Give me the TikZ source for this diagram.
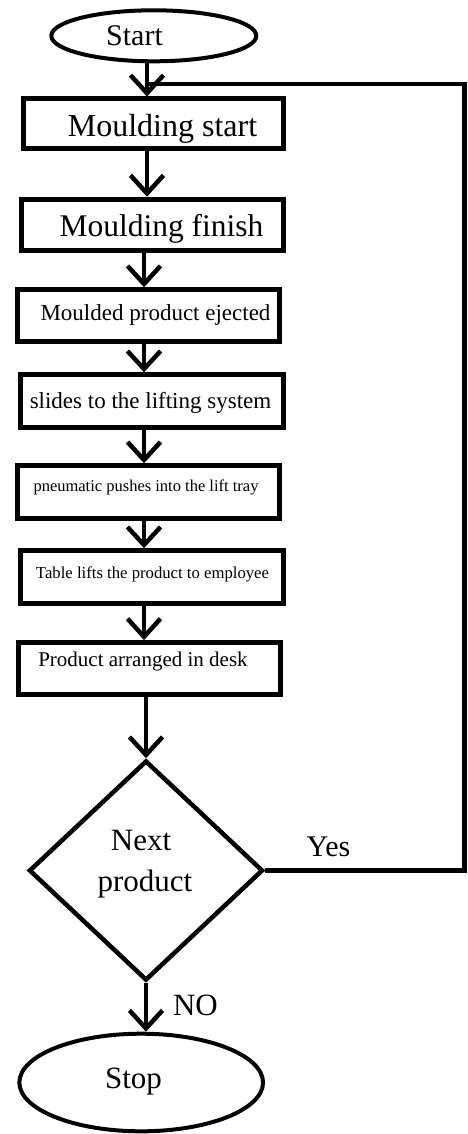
\documentclass[tikz,border=0pt]{standalone}
\usepackage{fontspec}
\setmainfont{Liberation Serif}
\usetikzlibrary{arrows.meta,shapes.geometric}
\newcommand{\fsz}[1]{\fontsize{#1}{#1}\selectfont}
\begin{document}
\begin{tikzpicture}[x=1pt,y=-1pt,
  boxnode/.style={draw, rectangle, line width=5pt, inner sep=0pt},
  termnode/.style={draw, ellipse, line width=4pt, inner sep=0pt},
  decnode/.style={draw, diamond, line width=4.5pt, inner sep=0pt},
  txt/.style={anchor=base, inner sep=0pt},
  arr/.style={line width=4.5pt, -{Straight Barb[length=18pt, width=33pt]}},
  flow/.style={line width=4.5pt}
]
\useasboundingbox (0,0) rectangle (467,1134);

% shapes
\node[termnode, minimum width=205pt, minimum height=51pt] (start) at (153.8,35.8) {};
\node[boxnode, minimum width=260pt, minimum height=50pt] (ms) at (153.5,124) {};
\node[boxnode, minimum width=261.7pt, minimum height=51.6pt] (mf) at (152.6,225) {};
\node[boxnode, minimum width=261.7pt, minimum height=51.7pt] (ej) at (148.4,315.6) {};
\node[boxnode, minimum width=262.4pt, minimum height=52.7pt] (sl) at (152,401.2) {};
\node[boxnode, minimum width=261.7pt, minimum height=52.4pt] (pn) at (148.4,492) {};
\node[boxnode, minimum width=262.4pt, minimum height=52.4pt] (tb) at (152,577) {};
\node[boxnode, minimum width=262.3pt, minimum height=51.7pt] (pa) at (149.7,668.4) {};
\node[decnode, minimum width=234pt, minimum height=220pt] (dec) at (146,870.5) {};
\node[termnode, minimum width=243.7pt, minimum height=97.6pt] (stop) at (141.2,1082.5) {};

% texts
\node[txt, font=\fsz{30}] (tstart) at (134.5,46) {Start};
\node[txt, font=\fsz{32}] (tms) at (162.5,137) {Moulding start};
\node[txt, font=\fsz{31.5}] (tmf) at (161.5,236) {Moulding finish};
\node[txt, font=\fsz{23}] (tej) at (155.5,320.7) {Moulded product ejected};
\node[txt, font=\fsz{23}] (tsl) at (150.5,408) {slides to the lifting system};
\node[txt, font=\fsz{16.5}] (tpn) at (146,491.7) {pneumatic pushes into the lift tray};
\node[txt, font=\fsz{16.7}] (ttb) at (152.5,578) {Table lifts the product to employee};
\node[txt, font=\fsz{21}] (tpa) at (143,666.7) {Product arranged in desk};
\node[txt, font=\fsz{31}] (tnext) at (141,850.7) {Next};
\node[txt, font=\fsz{31}] (tprod) at (145,891.7) {product};
\node[txt, font=\fsz{30}] (tyes) at (328.5,856.7) {Yes};
\node[txt, font=\fsz{31}] (tno) at (195.5,1015.7) {NO};
\node[txt, font=\fsz{31}] (tstop) at (133.5,1088.3) {Stop};

% columns for connectors
\coordinate (c1) at (147,0);
\coordinate (c2) at (144,0);
\coordinate (c3) at (146,0);
\coordinate (join) at (147,84);
\coordinate (corner) at (464.5,84);

% connectors
\draw[arr] (start.south -| c1) -- (ms.north -| c1);
\draw[arr] (ms.south -| c1) -- (mf.north -| c1);
\draw[arr] (mf.south -| c2) -- (ej.north -| c2);
\draw[arr] (ej.south -| c2) -- (sl.north -| c2);
\draw[arr] (sl.south -| c2) -- (pn.north -| c2);
\draw[arr] (pn.south -| c2) -- (tb.north -| c2);
\draw[arr] (tb.south -| c2) -- (pa.north -| c2);
\draw[arr] (pa.south -| c3) -- (dec.north);
\draw[arr] (dec.south) -- (stop.north -| dec.south);
\draw[flow] (dec.east) -| (corner) -- (join);
\end{tikzpicture}
\end{document}
